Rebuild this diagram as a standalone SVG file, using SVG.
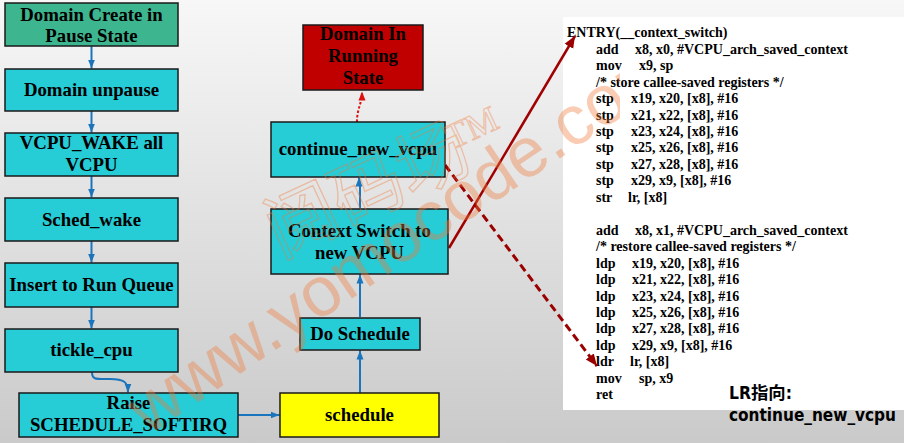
<svg xmlns="http://www.w3.org/2000/svg" width="904" height="443" viewBox="0 0 904 443">
<defs>
<linearGradient id="bg" x1="0" y1="0" x2="0" y2="1">
<stop offset="0" stop-color="#f7f7f7"/>
<stop offset="1" stop-color="#cacaca"/>
</linearGradient>
<clipPath id="wmclip"><rect x="0" y="0" width="620" height="443"/></clipPath>
<marker id="ab" markerUnits="userSpaceOnUse" markerWidth="10" markerHeight="10" viewBox="0 0 10 10" refX="9" refY="5" orient="auto">
<path d="M0,1.5 L9,5 L0,8.5 Z" fill="#1b75bc"/>
</marker>
<marker id="ar" markerUnits="userSpaceOnUse" markerWidth="10" markerHeight="10" viewBox="0 0 10 10" refX="9" refY="5" orient="auto">
<path d="M0,1.5 L9,5 L0,8.5 Z" fill="#e01010"/>
</marker>
<marker id="ad" markerUnits="userSpaceOnUse" markerWidth="14" markerHeight="14" viewBox="0 0 14 14" refX="12" refY="7" orient="auto">
<path d="M0,2 L12,7 L0,12 Z" fill="#9a0000"/>
</marker>
<style>
.box{stroke:#1a1a1a;stroke-width:1.5}
.cy{fill:#26ccd6}
.t{font-family:"Liberation Serif","Times New Roman",serif;font-weight:bold;font-size:18.8px;fill:#000;text-anchor:middle}
.c{font-family:"Liberation Serif","Times New Roman",serif;font-weight:bold;font-size:14px;fill:#000}
.blue{fill:none;stroke:#1b75bc;stroke-width:2;marker-end:url(#ab)}
.lr{font-family:"DejaVu Sans Condensed","DejaVu Sans","Noto Sans CJK SC",sans-serif;font-stretch:condensed;font-weight:bold;font-size:17px;fill:#000}
</style>
</defs>
<rect x="0" y="0" width="904" height="443" fill="url(#bg)"/>

<g id="code">
<rect x="563" y="17" width="341" height="393" fill="#ffffff"/>
<text class="c" x="567" y="37.3">ENTRY(__context_switch)</text>
<text class="c" x="596" y="53.7">add</text><text class="c" x="635" y="53.7">x8, x0, #VCPU_arch_saved_context</text>
<text class="c" x="596" y="70.2">mov</text><text class="c" x="639" y="70.2">x9, sp</text>
<text class="c" x="596" y="86.6">/* store callee-saved registers */</text>
<text class="c" x="596" y="103.1">stp</text><text class="c" x="631" y="103.1">x19, x20, [x8], #16</text>
<text class="c" x="596" y="119.5">stp</text><text class="c" x="631" y="119.5">x21, x22, [x8], #16</text>
<text class="c" x="596" y="136">stp</text><text class="c" x="631" y="136">x23, x24, [x8], #16</text>
<text class="c" x="596" y="152.4">stp</text><text class="c" x="631" y="152.4">x25, x26, [x8], #16</text>
<text class="c" x="596" y="168.9">stp</text><text class="c" x="631" y="168.9">x27, x28, [x8], #16</text>
<text class="c" x="596" y="185.3">stp</text><text class="c" x="631" y="185.3">x29, x9, [x8], #16</text>
<text class="c" x="596" y="201.8">str</text><text class="c" x="628" y="201.8">lr, [x8]</text>
<text class="c" x="596" y="234.7">add</text><text class="c" x="635" y="234.7">x8, x1, #VCPU_arch_saved_context</text>
<text class="c" x="596" y="251.1">/* restore callee-saved registers */</text>
<text class="c" x="596" y="267.6">ldp</text><text class="c" x="632" y="267.6">x19, x20, [x8], #16</text>
<text class="c" x="596" y="284">ldp</text><text class="c" x="632" y="284">x21, x22, [x8], #16</text>
<text class="c" x="596" y="300.5">ldp</text><text class="c" x="632" y="300.5">x23, x24, [x8], #16</text>
<text class="c" x="596" y="316.9">ldp</text><text class="c" x="632" y="316.9">x25, x26, [x8], #16</text>
<text class="c" x="596" y="333.4">ldp</text><text class="c" x="632" y="333.4">x27, x28, [x8], #16</text>
<text class="c" x="596" y="349.8">ldp</text><text class="c" x="632" y="349.8">x29, x9, [x8], #16</text>
<text class="c" x="596" y="366.3">ldr</text><text class="c" x="630" y="366.3">lr, [x8]</text>
<text class="c" x="596" y="382.7">mov</text><text class="c" x="639" y="382.7">sp, x9</text>
<text class="c" x="596" y="399.2">ret</text>
</g>

<g id="note">
<text class="lr" x="729" y="399" textLength="63" lengthAdjust="spacingAndGlyphs">LR指向:</text>
<text class="lr" x="729" y="421" textLength="167" lengthAdjust="spacingAndGlyphs">continue_new_vcpu</text>
</g>

<g id="connectors">
<line class="blue" x1="91.5" y1="46" x2="91.5" y2="68.5"/>
<line class="blue" x1="91.5" y1="111" x2="91.5" y2="132.5"/>
<line class="blue" x1="91.5" y1="176" x2="91.5" y2="197.5"/>
<line class="blue" x1="91.5" y1="241" x2="91.5" y2="262.5"/>
<line class="blue" x1="91.5" y1="307" x2="91.5" y2="328.5"/>
<path class="blue" d="M92,372 C92,380 96,379 110,379 C124,379 128,382 128,392.5"/>
<line class="blue" x1="238" y1="415" x2="279.5" y2="415"/>
<line class="blue" x1="360" y1="393" x2="360" y2="350.5"/>
<line class="blue" x1="360" y1="317" x2="360" y2="274.5"/>
<path class="blue" d="M360,209 L360,186 C360,182 359,180 359,177.5"/>
<path d="M357,122 C357,108 362,104 362,91.5" fill="none" stroke="#e01010" stroke-width="2" stroke-dasharray="2.5 2" marker-end="url(#ar)"/>
<line x1="449" y1="248" x2="575" y2="36" stroke="#a00000" stroke-width="2.5" marker-end="url(#ad)"/>
<line x1="445" y1="165" x2="597" y2="366" stroke="#9a0000" stroke-width="3" stroke-dasharray="8 4.5" marker-end="url(#ad)"/>
</g>

<g id="n-create"><rect class="box" x="5" y="3" width="173" height="43" fill="#3db58f"/><text class="t" x="91.5" y="20.5">Domain Create in</text><text class="t" x="91.5" y="41.5">Pause State</text></g>
<g id="n-unpause"><rect class="box cy" x="5" y="69" width="173" height="42"/><text class="t" x="91.5" y="96">Domain unpause</text></g>
<g id="n-wake"><rect class="box cy" x="5" y="133" width="173" height="43"/><text class="t" x="91.5" y="149">VCPU_WAKE all</text><text class="t" x="91.5" y="171">VCPU</text></g>
<g id="n-schedwake"><rect class="box cy" x="5" y="198" width="173" height="43"/><text class="t" x="91.5" y="226">Sched_wake</text></g>
<g id="n-insert"><rect class="box cy" x="5" y="263" width="173" height="44"/><text class="t" x="91.5" y="291">Insert to Run Queue</text></g>
<g id="n-tickle"><rect class="box cy" x="5" y="329" width="173" height="43"/><text class="t" x="91.5" y="356">tickle_cpu</text></g>
<g id="n-raise"><rect class="box cy" x="19" y="393" width="219" height="44"/><text class="t" x="128.5" y="409">Raise</text><text class="t" x="128.5" y="431">SCHEDULE_SOFTIRQ</text></g>
<g id="n-schedule"><rect class="box" x="280" y="393" width="159" height="44" fill="#ffff00"/><text class="t" x="359.5" y="421">schedule</text></g>
<g id="n-do"><rect class="box cy" x="300" y="318" width="120" height="32"/><text class="t" x="360" y="340">Do Schedule</text></g>
<g id="n-ctx"><rect class="box cy" x="271" y="209" width="177" height="65"/><text class="t" x="359.5" y="237">Context Switch to</text><text class="t" x="359.5" y="259">new VCPU</text></g>
<g id="n-continue"><rect class="box cy" x="271" y="122" width="174" height="55"/><text class="t" x="358" y="155">continue_new_vcpu</text></g>
<g id="n-running"><rect class="box" x="303" y="25" width="120" height="65" fill="#c00000"/><text class="t" x="363" y="40">Domain In</text><text class="t" x="363" y="62">Running</text><text class="t" x="363" y="84">State</text></g>

<g id="watermark" opacity="0.38" clip-path="url(#wmclip)">
<text transform="translate(148,436) rotate(-34)" font-family="'Liberation Sans',Arial,sans-serif" font-size="70" fill="#f07a3a">www.yomocode.com</text>
<text transform="translate(280,258) rotate(-25)" font-family="'Noto Sans CJK SC',sans-serif" font-size="72" fill="none" stroke="#f07a3a" stroke-width="1.3">阅码场</text>
<text transform="translate(452,150) rotate(-25)" font-family="'Liberation Serif',serif" font-size="36" fill="none" stroke="#f07a3a" stroke-width="1.2">TM</text>
</g>
</svg>
